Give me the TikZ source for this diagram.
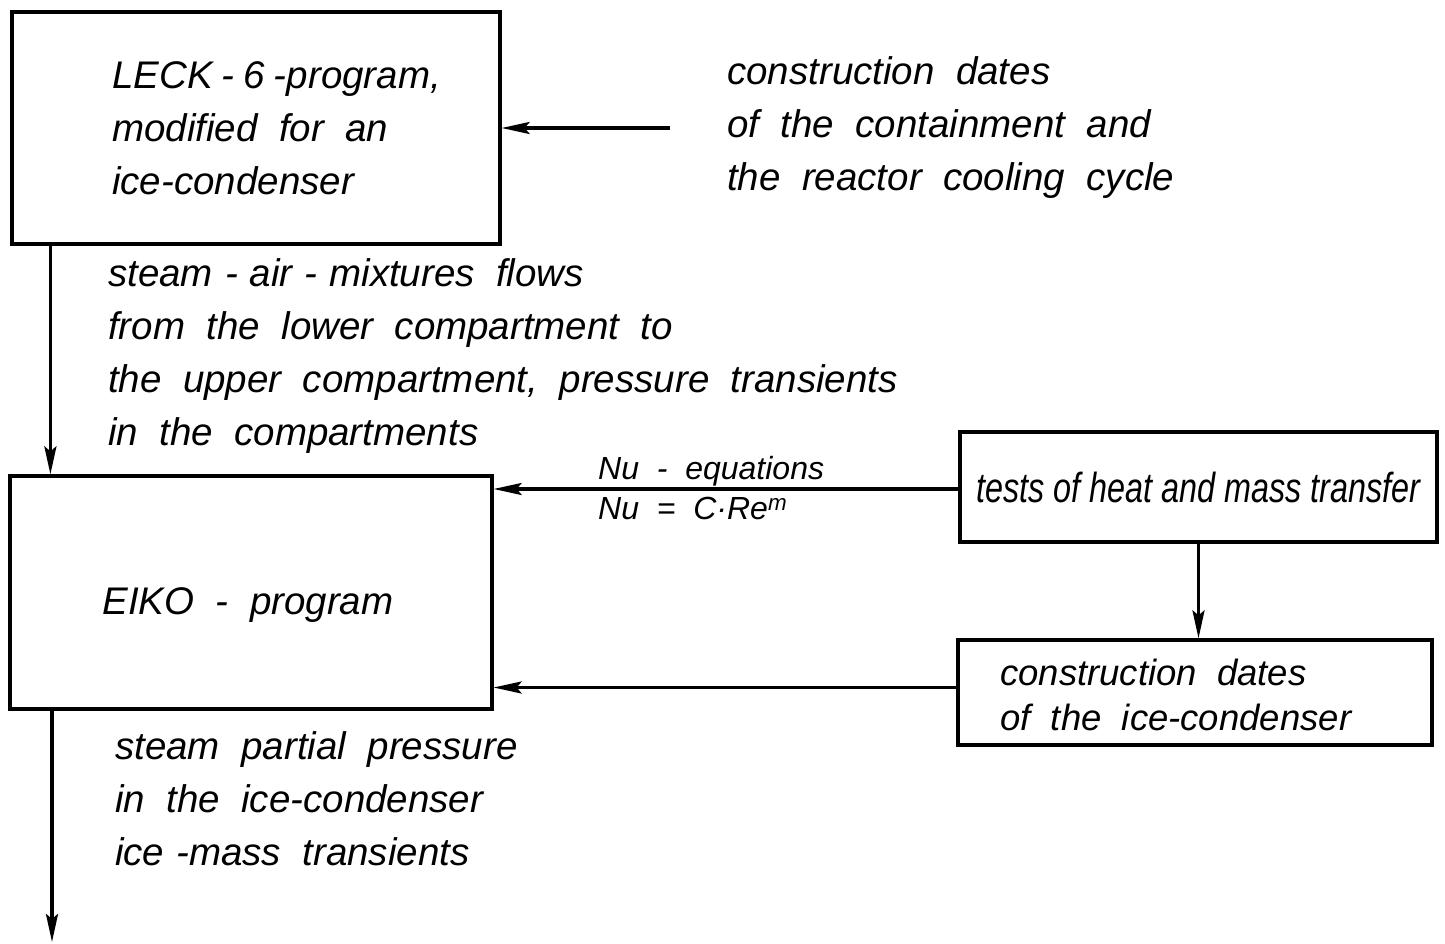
\documentclass[tikz,border=0pt]{standalone}
\usepackage{fontspec}
\usepackage{graphicx}
\setmainfont[WordSpace=2]{Liberation Sans}
\newfontfamily\tightfont{Liberation Sans}
\usetikzlibrary{arrows.meta}
\newcommand{\hy}{\hspace{12pt}-\hspace{12pt}}
\newcommand{\hs}{\hspace{9pt}}
\tikzset{
  box/.style={draw, line width=3.2pt, inner sep=0pt},
  lbl/.style={anchor=west, align=left, inner sep=0pt, font=\fontsize{38.5}{53}\selectfont\itshape},
  small/.style={anchor=west, align=left, inner sep=0pt, font=\fontsize{32}{40}\selectfont\itshape},
  arr/.style={line width=3.4pt, -{Stealth[length=28pt,width=12pt,inset=5pt]}}
}
\begin{document}
\begin{tikzpicture}[x=1pt,y=-1pt]
\useasboundingbox (0,0) rectangle (1445,944);
% boxes
\node[box, minimum width=488pt, minimum height=232pt] (leck) at (256,128) {};
\node[lbl] (leckt) at (112,128) {LECK\hs-\hs6\hs-program,\\modified for an\\ice-condenser};
\node[box, minimum width=482pt, minimum height=233pt] (eiko) at (251,592.5) {};
\node[lbl, anchor=center] (eikot) at (248,605) {EIKO - program};
\node[box, minimum width=477pt, minimum height=110pt] (tests) at (1198.5,487)
  {\scalebox{0.77}[1]{\tightfont\fontsize{42}{50}\selectfont\itshape tests of heat and mass transfer}};
\node[box, minimum width=474pt, minimum height=105pt] (ice) at (1195,692.5) {};
\node[lbl, font=\fontsize{36.5}{45}\selectfont\itshape] (icet) at (1000,695) {construction dates\\of the ice-condenser};
% free texts
\node[lbl] (cdates) at (727,128) {construction dates\\of the containment and\\the reactor cooling cycle};
\node[lbl] (flows) at (108,356) {steam\hy air\hy mixtures flows\\from the lower compartment to\\the upper compartment, pressure transients\\in the compartments};
\node[lbl] (outt) at (115,799) {steam partial pressure\\in the ice-condenser\\ice\hspace{12pt}-mass transients};
\node[small, anchor=south west] (nu1) at (598,486) {Nu - equations};
\node[small, anchor=north west] (nu2) at (598,497) {Nu = C·Re\textsuperscript{m}};
\coordinate (outend) at (52,942);
% connectors
\draw[arr] ([xshift=-57pt]cdates.west) -- (cdates.west -| leck.east);
\draw[arr] ([xshift=40pt]leck.south west) -- ([xshift=40pt]leck.south west |- eiko.north);
\draw[arr] ([yshift=-2pt]tests.west) -- ([yshift=-2pt]tests.west -| eiko.east);
\draw[arr] (tests.south) -- (tests.south |- ice.north);
\draw[arr] ([yshift=5pt]ice.west) -- ([yshift=5pt]ice.west -| eiko.east);
\draw[arr] (eiko.south west -| outend) -- (outend);
\end{tikzpicture}
\end{document}
